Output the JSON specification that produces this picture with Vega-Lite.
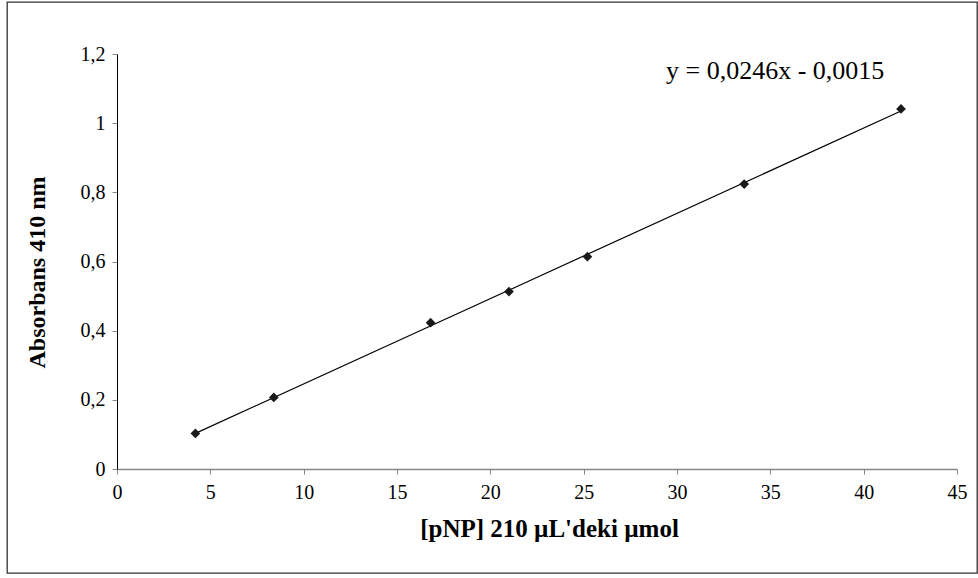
{
  "$schema": "https://vega.github.io/schema/vega-lite/v6.json",
  "autosize": {"type": "none"},
  "padding": {"left": 7, "top": 2, "right": 1, "bottom": 5},
  "width": 970,
  "height": 571,
  "background": "white",
  "config": {
    "view": {"stroke": "#333333", "strokeWidth": 1.3},
    "font": "Liberation Serif"
  },
  "data": {
    "values": [
      {"x": 4.2, "y": 0.103},
      {"x": 8.4, "y": 0.207},
      {"x": 16.8, "y": 0.423},
      {"x": 21.0, "y": 0.513},
      {"x": 25.2, "y": 0.614},
      {"x": 33.6, "y": 0.824},
      {"x": 42.0, "y": 1.041}
    ]
  },
  "encoding": {
    "x": {
      "field": "x",
      "type": "quantitative",
      "scale": {"domain": [0, 45], "range": [110, 950], "nice": false, "zero": false},
      "axis": {
        "title": "[pNP] 210 µL'deki µmol",
        "values": [0, 5, 10, 15, 20, 25, 30, 35, 40, 45],
        "offset": -104,
        "grid": false,
        "domainColor": "#868686",
        "domainWidth": 1.5,
        "tickColor": "#868686",
        "tickSize": 5,
        "tickWidth": 1,
        "labelFont": "Liberation Serif",
        "labelFontSize": 20,
        "labelColor": "black",
        "labelPadding": 8,
        "labelFlush": false,
        "titleFont": "Liberation Serif",
        "titleFontSize": 25,
        "titleFontWeight": "bold",
        "titleColor": "black",
        "titlePadding": 14,
        "titleX": 542
      }
    },
    "y": {
      "field": "y",
      "type": "quantitative",
      "scale": {"domain": [0, 1.2], "range": [467, 52], "nice": false, "zero": false},
      "axis": {
        "title": "Absorbans 410 nm",
        "values": [0, 0.2, 0.4, 0.6, 0.8, 1, 1.2],
        "labelExpr": "replace(format(datum.value, '~g'), '.', ',')",
        "offset": -110,
        "grid": false,
        "domainColor": "black",
        "domainWidth": 1,
        "tickColor": "#868686",
        "tickSize": 5,
        "tickWidth": 1,
        "labelFont": "Liberation Serif",
        "labelFontSize": 20,
        "labelColor": "black",
        "labelPadding": 7,
        "labelFlush": false,
        "titleFont": "Liberation Serif",
        "titleFontSize": 24,
        "titleFontWeight": "bold",
        "titleColor": "black",
        "titlePadding": 31,
        "titleY": 270
      }
    }
  },
  "layer": [
    {
      "transform": [{"regression": "y", "on": "x"}],
      "mark": {"type": "line", "color": "black", "strokeWidth": 1.2}
    },
    {
      "mark": {"type": "point", "shape": "diamond", "filled": true, "size": 95, "color": "#1a1a1a", "opacity": 1}
    },
    {
      "data": {"values": [{"x": 35.26, "y": 1.127, "label": "y = 0,0246x - 0,0015"}]},
      "mark": {"type": "text", "font": "Liberation Serif", "fontSize": 26, "align": "center", "baseline": "alphabetic", "color": "black"},
      "encoding": {"text": {"field": "label"}}
    }
  ]
}
